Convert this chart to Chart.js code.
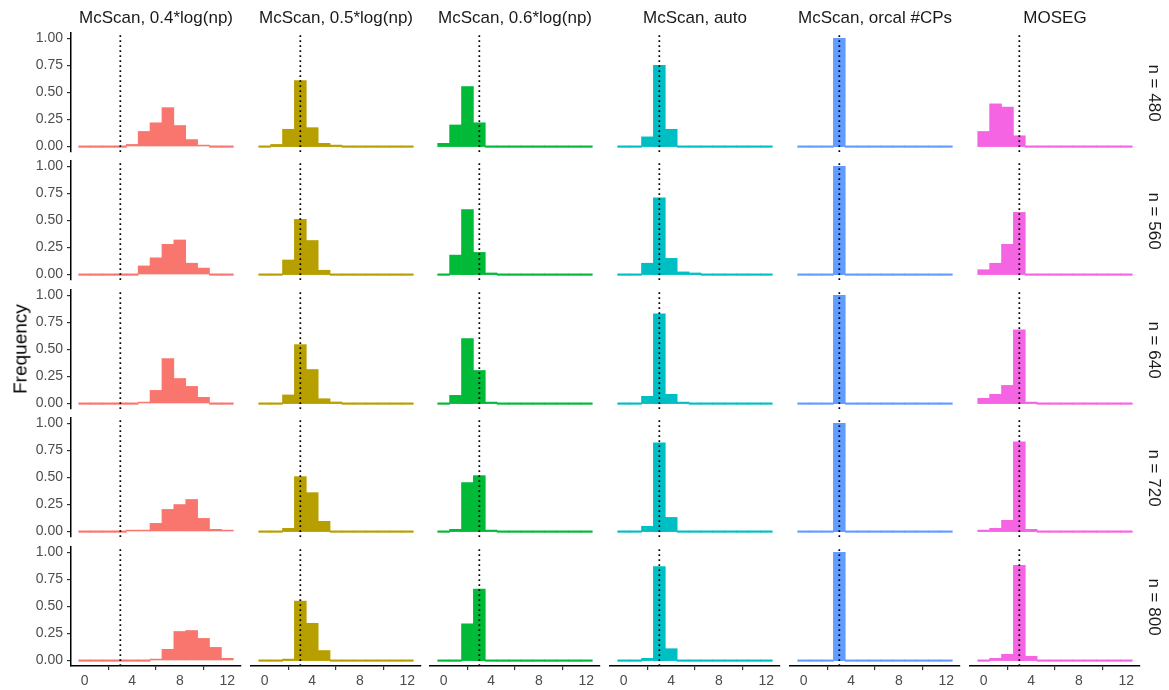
<!DOCTYPE html>
<html>
<head>
<meta charset="utf-8">
<script src="https://cdn.jsdelivr.net/npm/chart.js@4.4.1/dist/chart.umd.min.js"></script>
<style>
  body { margin: 0; background: #fff; width: 1169px; height: 690px; position: relative; overflow: hidden;
         font-family: "Liberation Sans", Arial, sans-serif; }
  .box { position: absolute; }
  .lab { position: absolute; white-space: nowrap; line-height: 1; color: #1a1a1a; font-size: 17px; }
</style>
</head>
<body>
<script>
// number of detected change points, one bin per integer
const bins = [0, 1, 2, 3, 4, 5, 6, 7, 8, 9, 10, 11, 12];
const xTicks = [0, 4, 8, 12];
const yTicks = [0, 0.25, 0.5, 0.75, 1];
const trueCPs = 3;

const methods = ['McScan, 0.4*log(np)', 'McScan, 0.5*log(np)', 'McScan, 0.6*log(np)',
                 'McScan, auto', 'McScan, orcal #CPs', 'MOSEG'];
const sampleSizes = ['n = 480', 'n = 560', 'n = 640', 'n = 720', 'n = 800'];
const colors = ['#F8766D', '#B79F00', '#00BA38', '#00BFC4', '#619CFF', '#F564E3'];

// relative frequencies per bin, one row per sample size
const mcscan04 = [
  [0, 0, 0, 0, 0.02, 0.14, 0.22, 0.36, 0.195, 0.065, 0.01, 0, 0],
  [0, 0, 0, 0, 0, 0.08, 0.155, 0.28, 0.32, 0.105, 0.06, 0, 0],
  [0, 0, 0, 0, 0, 0.012, 0.122, 0.416, 0.232, 0.159, 0.058, 0, 0],
  [0, 0, 0, 0, 0.012, 0.003, 0.076, 0.205, 0.25, 0.297, 0.122, 0.021, 0.012],
  [0, 0, 0, 0, 0, 0, 0.012, 0.104, 0.269, 0.278, 0.205, 0.122, 0.021]
];
const mcscan05 = [
  [0, 0.02, 0.16, 0.61, 0.175, 0.03, 0.01, 0, 0, 0, 0, 0, 0],
  [0, 0, 0.135, 0.51, 0.315, 0.04, 0, 0, 0, 0, 0, 0, 0],
  [0, 0, 0.08, 0.545, 0.315, 0.045, 0.015, 0, 0, 0, 0, 0, 0],
  [0, 0, 0.03, 0.508, 0.36, 0.095, 0, 0, 0, 0, 0, 0, 0],
  [0, 0, 0.012, 0.55, 0.345, 0.093, 0, 0, 0, 0, 0, 0, 0]
];
const mcscan06 = [
  [0.03, 0.2, 0.555, 0.22, 0, 0, 0, 0, 0, 0, 0, 0, 0],
  [0, 0.18, 0.6, 0.205, 0.015, 0, 0, 0, 0, 0, 0, 0, 0],
  [0, 0.076, 0.6, 0.306, 0.012, 0, 0, 0, 0, 0, 0, 0, 0],
  [0, 0.021, 0.453, 0.517, 0.012, 0, 0, 0, 0, 0, 0, 0, 0],
  [0, 0, 0.34, 0.66, 0, 0, 0, 0, 0, 0, 0, 0, 0]
];
const mcscanAuto = [
  [0, 0, 0.09, 0.75, 0.16, 0, 0, 0, 0, 0, 0, 0, 0],
  [0, 0, 0.105, 0.71, 0.15, 0.025, 0.015, 0, 0, 0, 0, 0, 0],
  [0, 0, 0.067, 0.829, 0.086, 0.012, 0, 0, 0, 0, 0, 0, 0],
  [0, 0, 0.049, 0.82, 0.131, 0, 0, 0, 0, 0, 0, 0, 0],
  [0, 0, 0.021, 0.87, 0.11, 0, 0, 0, 0, 0, 0, 0, 0]
];
const mcscanOrcal = [
  [0, 0, 0, 1, 0, 0, 0, 0, 0, 0, 0, 0, 0],
  [0, 0, 0, 1, 0, 0, 0, 0, 0, 0, 0, 0, 0],
  [0, 0, 0, 1, 0, 0, 0, 0, 0, 0, 0, 0, 0],
  [0, 0, 0, 1, 0, 0, 0, 0, 0, 0, 0, 0, 0],
  [0, 0, 0, 1, 0, 0, 0, 0, 0, 0, 0, 0, 0]
];
const moseg = [
  [0.14, 0.395, 0.365, 0.1, 0, 0, 0, 0, 0, 0, 0, 0, 0],
  [0.045, 0.105, 0.28, 0.575, 0, 0, 0, 0, 0, 0, 0, 0, 0],
  [0.049, 0.086, 0.168, 0.682, 0.012, 0, 0, 0, 0, 0, 0, 0, 0],
  [0.012, 0.03, 0.104, 0.829, 0.021, 0, 0, 0, 0, 0, 0, 0, 0],
  [0, 0.021, 0.058, 0.88, 0.04, 0, 0, 0, 0, 0, 0, 0, 0]
];
const freqs = [mcscan04, mcscan05, mcscan06, mcscanAuto, mcscanOrcal, moseg];

// facet layout
const xMin = -1.15, xMax = 13.15, yMin = -0.05, yMax = 1.05;
const left0 = 71, stepX = 179.7, panelW = 170;
const top0 = 32.6, stepY = 128.5, panelH = 119;
const yAxisW = 44, xAxisH = 26, pad = 8;

Chart.defaults.font.family = '"Liberation Sans", Arial, sans-serif';

const tickFont = { size: 14 };
const axisGrid = { display: true, drawOnChartArea: false, drawTicks: true, tickLength: 4, color: '#333', lineWidth: 1.2 };
const axisBorder = { display: true, color: '#000', width: 1.5 };

function addLabel(text, x, y, rot, size, color) {
  const d = document.createElement('div');
  d.className = 'lab';
  d.textContent = text;
  d.style.left = x + 'px';
  d.style.top = y + 'px';
  d.style.transform = 'translate(-50%, -50%) rotate(' + rot + 'deg)';
  if (size) d.style.fontSize = size + 'px';
  if (color) d.style.color = color;
  document.body.appendChild(d);
}

function drawPanel(r, c) {
  const pl = Math.round(left0 + c * stepX);
  const pt = Math.round(top0 + r * stepY);
  const showY = c === 0;
  const showX = r === sampleSizes.length - 1;

  const w = panelW + 2 * pad + (showY ? yAxisW : 0);
  const h = panelH + 2 * pad + (showX ? xAxisH : 0);
  const box = document.createElement('div');
  box.className = 'box';
  box.style.left = (pl - pad - (showY ? yAxisW : 0)) + 'px';
  box.style.top = (pt - pad) + 'px';
  const canvas = document.createElement('canvas');
  canvas.width = w;
  canvas.height = h;
  box.appendChild(canvas);
  document.body.appendChild(box);

  const values = freqs[c][r];

  new Chart(canvas.getContext('2d'), {
    type: 'bar',
    data: {
      datasets: [
        {
          type: 'line',
          data: [{ x: trueCPs, y: yMin }, { x: trueCPs, y: yMax }],
          borderColor: '#000',
          borderWidth: 1.7,
          borderDash: [1.7, 3.3],
          pointRadius: 0,
          order: 0
        },
        {
          data: bins.map((b, i) => ({ x: b, y: values[i] })),
          backgroundColor: colors[c],
          borderWidth: 0,
          barPercentage: 1,
          categoryPercentage: 1,
          minBarLength: 1.5,
          order: 1
        }
      ]
    },
    options: {
      responsive: false,
      animation: false,
      events: [],
      layout: { padding: pad, autoPadding: false },
      plugins: { legend: { display: false }, tooltip: { enabled: false } },
      scales: {
        x: {
          type: 'linear',
          min: xMin,
          max: xMax,
          offset: false,
          display: showX,
          afterBuildTicks: s => { s.ticks = xTicks.map(v => ({ value: v })); },
          afterFit: s => {
            s.height = showX ? xAxisH : 0;
            s.paddingLeft = 0;
            s.paddingRight = 0;
          },
          grid: axisGrid,
          border: axisBorder,
          ticks: { color: '#4d4d4d', font: tickFont, padding: 3, maxRotation: 0, autoSkip: false,
                   callback: v => String(v) }
        },
        y: {
          type: 'linear',
          min: yMin,
          max: yMax,
          display: showY,
          afterBuildTicks: s => { s.ticks = yTicks.map(v => ({ value: v })); },
          afterFit: s => {
            s.width = showY ? yAxisW : 0;
            s.paddingTop = 0;
            s.paddingBottom = 0;
          },
          grid: axisGrid,
          border: axisBorder,
          ticks: { color: '#4d4d4d', font: tickFont, padding: 4, autoSkip: false,
                   callback: v => v.toFixed(2) }
        }
      }
    }
  });
}

for (let r = 0; r < sampleSizes.length; r++) {
  for (let c = 0; c < methods.length; c++) drawPanel(r, c);
}

// strip labels
methods.forEach((m, c) => addLabel(m, Math.round(left0 + c * stepX) + panelW / 2, 17, 0));
sampleSizes.forEach((s, r) => addLabel(s, 1154, Math.round(top0 + r * stepY) + panelH / 2, 90));
addLabel('Frequency', 20, 349, -90, 19, '#000');
</script>
</body>
</html>
